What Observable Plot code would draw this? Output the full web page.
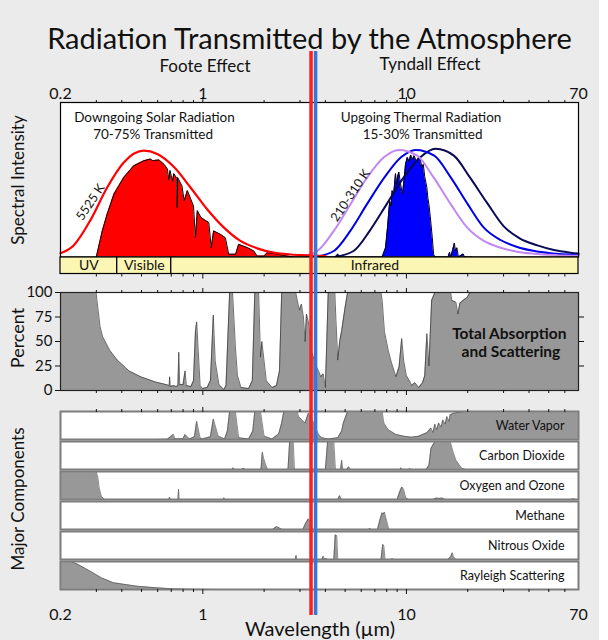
<!DOCTYPE html>
<html><head><meta charset="utf-8">
<script src="https://cdn.jsdelivr.net/npm/d3@7"></script>
<script src="https://cdn.jsdelivr.net/npm/@observablehq/plot@0.6"></script>
<style>
body{margin:0;background:#fff;}
#page{position:relative;width:599px;height:640px;background:#ebebeb;font-family:Lato,"Open Sans",sans-serif;overflow:hidden;color:#111;}
.lbl{position:absolute;white-space:nowrap;transform:translate(-50%,-50%);line-height:1;}
</style></head><body><div id="page"></div>
<script>
// ---------- data (wavelength in µm) ----------
const labeledTicks = [0.2, 1, 10, 70];
const majorTicks = [1, 10];
const minorTicks = [0.3,0.4,0.5,0.6,0.7,0.8,0.9,2,3,4,5,6,7,8,9,20,30,40,50,60];
const dividerWavelengths = [3.40, 3.58];

// 5525 K solar blackbody curve (relative intensity)
const solarCurveW = [0.2,0.232,0.281,0.339,0.409,0.513,0.597,0.72,0.87,1.05,1.27,1.53,1.85,2.23,2.7,3.26,4.0];
const solarCurveV = [0.024,0.075,0.24,0.45,0.612,0.688,0.667,0.584,0.45,0.309,0.19,0.104,0.056,0.028,0.016,0.011,0.006];
// thermal blackbody curves 310 K, 260 K, 210 K
const warmW = [3.0,3.65,4.4,5.31,6.42,7.75,9.18,11.3,13.6,16.5,19.9,24,29,35,42.3,55,70];
const warmV = [0.003,0.039,0.169,0.342,0.515,0.645,0.693,0.656,0.515,0.342,0.19,0.104,0.06,0.034,0.021,0.012,0.008];
const midW = [3.6,4.4,5.3,6.4,7.8,9.4,11.1,13.7,16.5,20,24,29,35,42,51,70];
const midV = [0.003,0.039,0.169,0.342,0.515,0.645,0.693,0.656,0.515,0.342,0.19,0.11,0.065,0.04,0.024,0.013];
const coldW = [4.5,5.5,6.6,8.0,9.7,11.7,13.9,17.1,20.5,24.9,30,36,44,53,64,70];
const coldV = [0.003,0.039,0.169,0.342,0.515,0.645,0.70,0.656,0.515,0.35,0.2,0.12,0.075,0.045,0.028,0.022];

// transmitted solar radiation (red area)
const solarT = [[0.3,0],[0.321,0.17],[0.339,0.277],[0.366,0.407],[0.409,0.515],[0.458,0.59],[0.513,0.623],[0.553,0.634],[0.57,0.622],[0.586,0.626],[0.61,0.628],[0.645,0.60],[0.67,0.57],[0.68,0.50],[0.69,0.56],[0.71,0.49],[0.72,0.54],[0.745,0.51],[0.748,0.32],[0.752,0.515],[0.79,0.46],[0.81,0.364],[0.84,0.43],[0.9,0.33],[0.92,0.125],[0.94,0.30],[0.98,0.255],[1.07,0.223],[1.10,0.06],[1.13,0.169],[1.22,0.147],[1.29,0.125],[1.34,0.018],[1.45,0.018],[1.50,0.082],[1.66,0.06],[1.78,0.039],[1.85,0.006],[2.0,0.006],[2.07,0.028],[2.23,0.022],[2.5,0.01],[2.8,0],[3.0,0]];
// transmitted thermal radiation (blue area)
const thermalT = [[3.0,0],[4.5,0],[4.6,0.02],[4.7,0],[7.6,0],[7.9,0.06],[8.1,0.21],[8.2,0.30],[8.28,0.36],[8.4,0.33],[8.51,0.43],[8.65,0.40],[8.84,0.54],[8.95,0.47],[9.05,0.52],[9.18,0.55],[9.3,0.50],[9.45,0.44],[9.57,0.41],[9.7,0.48],[9.9,0.60],[10.1,0.645],[10.3,0.62],[10.5,0.66],[10.7,0.63],[10.9,0.656],[11.2,0.62],[11.5,0.645],[11.7,0.634],[11.9,0.58],[12.1,0.60],[12.3,0.52],[12.6,0.45],[12.75,0.38],[12.9,0.34],[13.1,0.26],[13.4,0.125],[13.6,0.018],[13.8,0],[16.0,0],[16.3,0.03],[16.5,0],[16.9,0.05],[17.2,0.09],[17.4,0.04],[17.7,0.06],[18,0],[19,0.02],[19.3,0],[21,0]];

const bandNames = ["UV","Visible","Infrared"];
const bandStart = [0.2,0.38,0.7];
const bandEnd = [0.38,0.7,70];

// total absorption and scattering, percent
const totalAbsorption = [[0.2,100],[0.299,100],[0.306,82],[0.313,65],[0.322,55],[0.349,41],[0.38,31],[0.434,20],[0.495,14],[0.589,8.5],[0.66,6],[0.684,5],[0.687,14],[0.692,4],[0.72,5],[0.74,4],[0.755,5],[0.762,39],[0.77,6],[0.80,6],[0.818,20],[0.83,5],[0.874,4],[0.90,10],[0.92,60],[0.933,70],[0.95,40],[0.97,5],[0.997,2],[1.05,3],[1.09,10],[1.126,77],[1.15,30],[1.2,6],[1.27,1],[1.3,5],[1.354,100],[1.40,100],[1.446,44],[1.48,15],[1.54,3],[1.68,2],[1.75,10],[1.80,100],[1.88,100],[1.92,34],[1.95,50],[2.05,10],[2.19,3],[2.3,5],[2.38,20],[2.44,100],[2.86,100],[2.91,92],[2.98,82],[3.05,88],[3.12,75],[3.18,50],[3.23,78],[3.3,70],[3.42,40],[3.6,25],[3.70,20],[3.8,14],[3.9,17],[4.0,3],[4.13,100],[4.45,100],[4.5,75],[4.6,31],[4.7,50],[4.81,61],[5.0,85],[5.14,100],[7.5,100],[7.6,92],[7.8,60],[8.14,41],[8.4,30],[8.88,14],[9.2,24],[9.48,53],[9.7,30],[10.0,15],[10.35,10],[10.6,5],[11.0,8],[11.5,3],[12.0,8],[12.3,15],[12.6,58],[12.9,25],[13.3,92],[13.8,100],[16.5,100],[16.7,92],[17.5,90],[17.9,78],[18.3,89],[19.0,92],[19.9,95],[20.5,100],[70,100]];

// major components, percent absorption
const componentNames = ["Water Vapor","Carbon Dioxide","Oxygen and Ozone","Methane","Nitrous Oxide","Rayleigh Scattering"];
const waterVapor = [[0.2,0],[0.589,0],[0.67,1],[0.717,18],[0.73,2],[0.8,3],[0.818,18],[0.86,2],[0.91,10],[0.933,65],[0.97,5],[0.997,2],[1.09,10],[1.126,73],[1.19,12],[1.28,2],[1.32,30],[1.354,100],[1.446,100],[1.5,6],[1.68,2],[1.76,30],[1.8,100],[1.92,100],[2.0,12],[2.19,2],[2.36,20],[2.44,59],[2.5,100],[2.91,100],[2.95,82],[3.18,59],[3.3,94],[3.5,60],[3.7,18],[3.85,6],[4.13,2],[4.6,6],[4.81,30],[4.9,59],[5.14,100],[7.6,100],[7.75,59],[8.14,35],[8.88,18],[9.7,12],[10.6,8],[11.5,12],[12.6,24],[13.2,41],[13.5,25],[13.8,55],[14.1,35],[14.4,59],[14.8,45],[15.1,70],[15.5,55],[15.8,82],[16.2,65],[16.4,88],[17.1,94],[17.9,97],[19.5,100],[70,100]];
const carbonDioxide = [[0.2,0],[1.39,0],[1.41,6],[1.43,0],[1.55,0],[1.58,4],[1.62,0],[1.93,0],[1.96,62],[1.99,40],[2.03,20],[2.08,0],[2.62,0],[2.67,100],[2.78,100],[2.82,0],[4.0,0],[4.1,100],[4.4,100],[4.48,0],[4.75,0],[4.81,33],[4.87,0],[5.1,0],[5.2,10],[5.3,0],[9.3,0],[9.4,6],[9.5,0],[10.3,0],[10.4,4],[10.5,0],[12.5,0],[12.9,15],[13.2,75],[13.8,100],[16.4,100],[17.0,60],[17.5,33],[18.7,4],[19.5,0],[70,0]];
const oxygenOzone = [[0.2,100],[0.299,100],[0.305,80],[0.31,40],[0.318,10],[0.33,0],[0.68,0],[0.687,8],[0.694,0],[0.755,0],[0.76,37],[0.765,0],[1.26,0],[1.27,6],[1.28,0],[4.6,0],[4.7,14],[4.8,0],[9.0,0],[9.3,30],[9.5,45],[9.7,35],[9.9,8],[10.2,0],[13.5,0],[14.0,5],[14.5,4],[15,5],[15.5,0],[64,0],[66,2],[68,0],[70,0]];
const methane = [[0.2,0],[2.2,0],[2.3,10],[2.4,4],[2.45,0],[3.1,0],[3.2,22],[3.3,38],[3.38,25],[3.45,0],[6.5,0],[6.6,4],[6.7,0],[7.2,0],[7.45,40],[7.6,60],[7.7,55],[7.8,62],[8.0,30],[8.2,0],[70,0]];
const nitrousOxide = [[0.2,0],[2.85,0],[2.87,15],[2.9,0],[3.85,0],[3.9,12],[3.95,2],[4.05,3],[4.1,0],[4.4,0],[4.47,88],[4.55,85],[4.6,0],[7.5,0],[7.65,54],[7.75,48],[7.85,0],[8.4,0],[8.5,3],[8.7,0],[16.0,0],[16.5,10],[16.8,24],[17.0,10],[17.5,0],[70,0]];
const rayleigh = [[0.2,100],[0.225,100],[0.246,88],[0.28,65],[0.319,41],[0.364,24],[0.473,12],[0.589,6],[0.733,2],[0.913,0.5],[1.2,0],[70,0]];

// ---------- build ----------
const page = document.getElementById("page");
const FONT = "Lato, 'Open Sans', sans-serif";
const pts = a => a.map(([w, v]) => ({w, v}));
const zip = (W, V) => W.map((w, i) => ({w, v: V[i]}));
const blank = () => "";
const xs = {type: "log", domain: [0.2, 70], axis: null};
const base = {width: 599, marginLeft: 60, marginRight: 21,
  style: {background: "transparent", overflow: "visible", fontFamily: FONT, color: "#111"}};

function place(el, top) {
  el.style.position = "absolute"; el.style.left = "0px"; el.style.top = top + "px";
  page.appendChild(el); return el;
}
function label(text, x, y, size, extra = "") {
  const d = document.createElement("div");
  d.className = "lbl"; d.textContent = text;
  d.style.left = x + "px"; d.style.top = y + "px"; d.style.fontSize = size + "px";
  if (extra) d.style.transform = "translate(-50%,-50%) " + extra;
  page.appendChild(d);
}
function xTicks(anchor, minorSize, majorSize, extra = {}) {
  return [
    Plot.axisX({anchor, ticks: minorTicks, tickSize: minorSize, tickFormat: blank, label: null, ...extra}),
    Plot.axisX({anchor, ticks: majorTicks, tickSize: majorSize, tickFormat: blank, label: null, ...extra})
  ];
}
const tickLabels = (anchor, dy) => Plot.text(labeledTicks, {x: d => d, text: d => String(d), frameAnchor: anchor, dy, fontSize: 16, fill: "#111"});

// spectral intensity panel
place(Plot.plot({...base, height: 196.5, marginTop: 42, marginBottom: 0,
  x: xs, y: {domain: [0, 1], axis: null},
  marks: [
    Plot.frame({fill: "white"}),
    Plot.areaY(pts(solarT), {x: "w", y: "v", fill: "#ff0000"}),
    Plot.lineY(pts(solarT), {x: "w", y: "v", stroke: "black", strokeWidth: 1}),
    Plot.areaY(pts(thermalT), {x: "w", y: "v", fill: "#0000ff"}),
    Plot.lineY(pts(thermalT), {x: "w", y: "v", stroke: "black", strokeWidth: 1}),
    Plot.lineY(zip(coldW, coldV), {x: "w", y: "v", stroke: "#0a0a55", strokeWidth: 2, curve: "monotone-x"}),
    Plot.lineY(zip(midW, midV), {x: "w", y: "v", stroke: "#0000e6", strokeWidth: 2, curve: "monotone-x"}),
    Plot.lineY(zip(warmW, warmV), {x: "w", y: "v", stroke: "#c387f2", strokeWidth: 2, curve: "monotone-x"}),
    Plot.lineY(zip(solarCurveW, solarCurveV), {x: "w", y: "v", stroke: "#ff0000", strokeWidth: 2.2, curve: "monotone-x"}),
    Plot.text(["Downgoing Solar Radiation"], {x: 0.579, y: 0.9, text: d => d, fontSize: 13.5}),
    Plot.text(["70-75% Transmitted"], {x: 0.57, y: 0.79, text: d => d, fontSize: 13.5}),
    Plot.text(["Upgoing Thermal Radiation"], {x: 11.8, y: 0.9, text: d => d, fontSize: 13.5}),
    Plot.text(["15-30% Transmitted"], {x: 12.0, y: 0.79, text: d => d, fontSize: 13.5}),
    Plot.text(["5525 K"], {x: 0.281, y: 0.355, text: d => d, fontSize: 12.5, rotate: -56}),
    Plot.text(["210-310 K"], {x: 5.31, y: 0.398, text: d => d, fontSize: 12.5, rotate: -56}),
    Plot.frame({stroke: "black", strokeWidth: 1.2}),
    ...xTicks("top", 3, 6),
    tickLabels("top", -15)
  ]}), 60);

// spectral band strip
place(Plot.plot({...base, height: 23, marginTop: 0, marginBottom: 6.5,
  x: xs, y: {axis: null},
  marks: [
    Plot.rect(bandNames, {x1: (d, i) => bandStart[i], x2: (d, i) => bandEnd[i], fill: "#fbf6b3", stroke: "black", strokeWidth: 1.2}),
    Plot.text(bandNames, {x: (d, i) => Math.sqrt(bandStart[i] * bandEnd[i]), text: d => d, fontSize: 14, frameAnchor: "middle"}),
    ...xTicks("bottom", 3, 5)
  ]}), 256.5);

// total absorption panel
place(Plot.plot({...base, height: 118, marginTop: 12, marginBottom: 8,
  x: xs, y: {domain: [0, 100]},
  marks: [
    Plot.frame({fill: "white"}),
    Plot.areaY(pts(totalAbsorption), {x: "w", y: "v", fill: "#989898"}),
    Plot.lineY(pts(totalAbsorption), {x: "w", y: "v", stroke: "#333", strokeWidth: 0.7}),
    Plot.text(["Total Absorption"], {x: 32, y: 58, text: d => d, fontSize: 15.5, fontWeight: "bold"}),
    Plot.text(["and Scattering"], {x: 32.6, y: 39, text: d => d, fontSize: 15.5, fontWeight: "bold"}),
    Plot.frame({stroke: "#222", strokeWidth: 1.2}),
    Plot.axisY({anchor: "left", ticks: [0, 25, 50, 75, 100], tickSize: 5, tickPadding: 3, fontSize: 15, label: null}),
    Plot.axisY({anchor: "right", ticks: [25, 50, 75], tickSize: 5, tickFormat: blank, label: null}),
    ...xTicks("top", 3, 5),
    ...xTicks("bottom", 3, 5)
  ]}), 280);

// major components panels
const compRows = [waterVapor, carbonDioxide, oxygenOzone, methane, nitrousOxide, rayleigh]
  .flatMap((arr, i) => arr.map(([w, v]) => ({comp: componentNames[i], w, v})));
place(Plot.plot({...base, height: 215, marginTop: 13, marginBottom: 18.5,
  x: xs, y: {domain: [0, 100], axis: null},
  fy: {domain: componentNames, axis: null, paddingInner: 0.08, paddingOuter: 0},
  marks: [
    Plot.frame({fill: "white", stroke: "#7d7d7d", strokeWidth: 1.6}),
    Plot.areaY(compRows, {x: "w", y: "v", fy: "comp", fill: "#989898"}),
    Plot.lineY(compRows, {x: "w", y: "v", fy: "comp", stroke: "#444", strokeWidth: 0.6}),
    Plot.frame({stroke: "#7d7d7d", strokeWidth: 1.6}),
    Plot.text(componentNames, {fy: d => d, text: d => d, frameAnchor: "right", dx: -14, fontSize: 12.5}),
    ...xTicks("top", 3, 5),
    ...xTicks("bottom", 3, 5)
  ]}), 395);

// bottom tick labels
place(Plot.plot({...base, height: 30, marginTop: 0, marginBottom: 0,
  x: xs, y: {axis: null},
  marks: [tickLabels("top", 12)]}), 596);

// red / blue divider lines
const ov = place(Plot.plot({...base, height: 640, marginTop: 51, marginBottom: 25,
  x: xs,
  marks: [
    Plot.ruleX([dividerWavelengths[0]], {x: d => d, stroke: "#ff1f1f", strokeWidth: 3.5}),
    Plot.ruleX([dividerWavelengths[1]], {x: d => d, stroke: "#3a76d6", strokeWidth: 3.5})
  ]}), 0);
ov.style.pointerEvents = "none";

// titles and axis titles
label("Radiation Transmitted by the Atmosphere", 309.5, 37, 29);
label("Foote Effect", 205, 65, 17);
label("Tyndall Effect", 430, 63, 17);
label("Spectral Intensity", 17, 180, 17, "rotate(-90deg)");
label("Percent", 17, 338, 18, "rotate(-90deg)");
label("Major Components", 17, 499, 17, "rotate(-90deg)");
label("Wavelength (\u00b5m)", 320, 628, 20);
</script></body></html>
